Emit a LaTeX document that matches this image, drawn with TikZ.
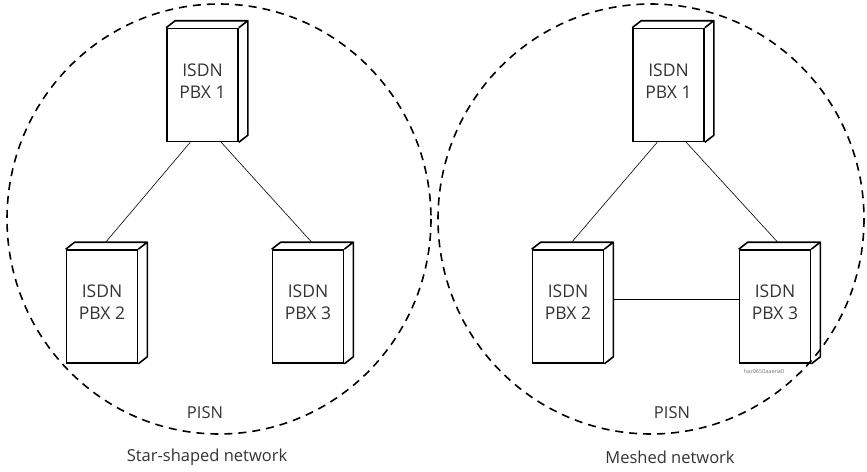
\documentclass[tikz,border=0pt]{standalone}
\usepackage{fontspec}
\setmainfont{Open Sans}
\usetikzlibrary{calc}

\tikzset{
  pbx/.style={draw, line width=1.6pt, minimum width=71pt, minimum height=113pt,
              inner sep=0pt, align=center, font=\fontsize{17.5}{22}\selectfont, text=black!80},
  link/.style={line width=0.6pt},
  cloud/.style={dash pattern=on 8pt off 6pt, line width=1.6pt},
  caption/.style={font=\fontsize{16.5}{18}\selectfont, text=black!80},
}

% two-line label of a box, set a little above the middle of its front face
\newcommand{\pbxlabel}[1]{ISDN\\PBX #1\\[-14pt]\mbox{}}

% draws the top face and the right-hand side of a box node
\newcommand{\boxdepth}[1]{%
  \draw[line width=1.6pt, line join=round]
    (#1.north west) -- ++(9pt,7pt) -- ($(#1.north east)+(9pt,7pt)$) -- (#1.north east)
    ($(#1.north east)+(9pt,7pt)$) -- ($(#1.south east)+(9pt,7pt)$) -- (#1.south east);
}

\begin{document}
\begin{tikzpicture}[x=1pt, y=-1pt]
  \useasboundingbox (0,0) rectangle (867,471);

  % ---------- star-shaped network ----------
  \draw[cloud] (219,219) ellipse [x radius=212, y radius=215];
  \node[pbx] (s1) at (202.5,85)  {\pbxlabel{1}};
  \node[pbx] (s2) at (102,306.5) {\pbxlabel{2}};
  \node[pbx] (s3) at (308,306.5) {\pbxlabel{3}};
  \boxdepth{s1}\boxdepth{s2}\boxdepth{s3}
  \draw[link] ($(s1.south west)+(24,0)$) -- ($(s2.north west)+(40,-7)$);
  \draw[link] ($(s1.south west)+(55,0)$) -- ($(s3.north west)+(40,-7)$);
  \node[caption] (p1) at (205,413) {PISN};
  \node[caption] (c1) at (207,457) {Star-shaped network};

  % ---------- meshed network ----------
  \draw[cloud] (651,219) ellipse [x radius=213, y radius=215];
  \node[pbx] (m1) at (668.5,85)  {\pbxlabel{1}};
  \node[pbx] (m2) at (568,306.5) {\pbxlabel{2}};
  \node[pbx] (m3) at (775,306.5) {\pbxlabel{3}};
  \boxdepth{m1}\boxdepth{m2}\boxdepth{m3}
  \draw[link] ($(m1.south west)+(25,0)$) -- ($(m2.north west)+(40,-7)$);
  \draw[link] ($(m1.south west)+(54,0)$) -- ($(m3.north west)+(39,-7)$);
  \draw[link] ($(m2.east)+(9,-7)$) -- (m3.west |- {$(m2.east)+(9,-7)$});
  \node[caption] (p2) at (672,413) {PISN};
  \node[caption] (c2) at (670,457) {Meshed network};
  \node[font=\fontsize{5.5}{6}\selectfont, text=black!55, inner sep=0pt] (code) at (764,371) {haz0650aaena0};
\end{tikzpicture}
\end{document}
